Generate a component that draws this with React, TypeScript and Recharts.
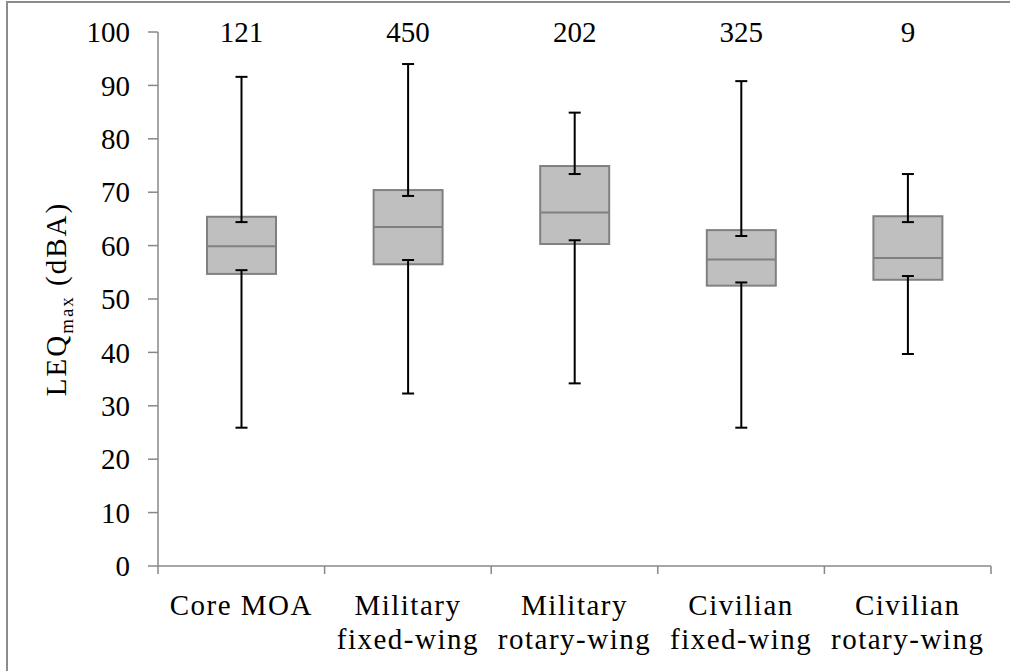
import { BarChart, Bar, XAxis, YAxis } from 'recharts';

// categories (\n = line break in the axis label)
const categories = [
  'Core MOA',
  'Military\nfixed-wing',
  'Military\nrotary-wing',
  'Civilian\nfixed-wing',
  'Civilian\nrotary-wing',
];
const counts = [121, 450, 202, 325, 9];

// box plot statistics, LEQmax (dBA)
const minValues = [25.9, 32.3, 34.2, 25.9, 39.7];
const lowerCaps = [55.4, 57.3, 61.0, 53.1, 54.3];
const q1Values = [54.7, 56.5, 60.3, 52.5, 53.6];
const medians = [59.9, 63.5, 66.2, 57.4, 57.7];
const upperCaps = [64.4, 69.3, 73.4, 61.8, 64.4];
const q3Values = [65.4, 70.4, 74.9, 62.9, 65.5];
const maxValues = [91.6, 94.0, 84.9, 90.8, 73.4];

const yTicks = [0, 10, 20, 30, 40, 50, 60, 70, 80, 90, 100];
const xBoundaryTicks = [0, 0.5, 1, 1.5, 2, 2.5, 3, 3.5, 4, 4.5, 5];
const countLevel = 100;

const FONT = '"Liberation Serif", "Times New Roman", serif';
const AXIS = '#888888';

const rows = categories.map((name, i) => ({
  name,
  pos: i + 0.5,
  count: counts[i],
  min: minValues[i],
  loCap: lowerCaps[i],
  q1: q1Values[i],
  median: medians[i],
  hiCap: upperCaps[i],
  q3: q3Values[i],
  max: maxValues[i],
  whisker: [minValues[i], maxValues[i]],
}));

function BoxShape(props: any) {
  const { x, y, width, height, payload } = props;
  const { min, max } = payload;
  // the bar spans min..max, so its own geometry gives the y scale
  const ppu = height / (max - min);
  const yOf = (v: number) => y + (max - v) * ppu;
  const cx = x + width / 2;
  const cap = 6;
  return (
    <g>
      <rect
        x={x}
        y={yOf(payload.q3)}
        width={width}
        height={yOf(payload.q1) - yOf(payload.q3)}
        fill="#bfbfbf"
        stroke="#808080"
        strokeWidth={2}
      />
      <line x1={x} x2={x + width} y1={yOf(payload.median)} y2={yOf(payload.median)} stroke="#808080" strokeWidth={2} />
      {/* upper whisker */}
      <line x1={cx} x2={cx} y1={yOf(payload.hiCap)} y2={yOf(max)} stroke="#000" strokeWidth={2} />
      <line x1={cx - cap} x2={cx + cap} y1={yOf(payload.hiCap)} y2={yOf(payload.hiCap)} stroke="#000" strokeWidth={2} />
      <line x1={cx - cap} x2={cx + cap} y1={yOf(max)} y2={yOf(max)} stroke="#000" strokeWidth={2} />
      {/* lower whisker */}
      <line x1={cx} x2={cx} y1={yOf(payload.loCap)} y2={yOf(min)} stroke="#000" strokeWidth={2} />
      <line x1={cx - cap} x2={cx + cap} y1={yOf(payload.loCap)} y2={yOf(payload.loCap)} stroke="#000" strokeWidth={2} />
      <line x1={cx - cap} x2={cx + cap} y1={yOf(min)} y2={yOf(min)} stroke="#000" strokeWidth={2} />
      <text x={cx} y={yOf(countLevel)} dy="0.36em" textAnchor="middle" fontFamily={FONT} fontSize={29} fill="#000">
        {payload.count}
      </text>
    </g>
  );
}

function CategoryTick(props: any) {
  const { x, y, payload } = props;
  const v = payload.value;
  if (Number.isInteger(v)) {
    return <line x1={x} x2={x} y1={y} y2={y + 8} stroke={AXIS} strokeWidth={1.5} />;
  }
  const lines = categories[Math.floor(v)].split('\n');
  return (
    <text x={x} y={y + 49} textAnchor="middle" fontFamily={FONT} fontSize={29} fill="#000" letterSpacing={1.5}>
      {lines.map((l, i) => (
        <tspan key={i} x={x} dy={i === 0 ? 0 : 34}>
          {l}
        </tspan>
      ))}
    </text>
  );
}

function YLabel(props: any) {
  const { viewBox } = props;
  const bx = viewBox.x + 46;
  const cy = viewBox.y + viewBox.height / 2;
  return (
    <text
      x={bx}
      y={cy}
      transform={`rotate(-90, ${bx}, ${cy})`}
      textAnchor="middle"
      fontFamily={FONT}
      fontSize={29}
      fill="#000"
      letterSpacing={2}
    >
      LEQ
      <tspan fontSize={19} dy={7}>
        max
      </tspan>
      <tspan dy={-7}> (dBA)</tspan>
    </text>
  );
}

export default function App() {
  return (
    <div style={{ position: 'absolute', left: 0, top: 0, width: 1010, height: 671, overflow: 'hidden', background: '#fff' }}>
      <div
        style={{
          position: 'absolute',
          left: 6,
          top: 1,
          width: 1100,
          height: 800,
          borderLeft: '2px solid #8c8c8c',
          borderTop: '2px solid #8c8c8c',
        }}
      />
      <div style={{ position: 'absolute', left: 0, top: 0 }}>
        <BarChart width={1010} height={671} data={rows} margin={{ top: 32, right: 19, bottom: 45, left: 20 }}>
          <XAxis
            xAxisId="num"
            dataKey="pos"
            type="number"
            domain={[0, 5]}
            ticks={xBoundaryTicks}
            allowDataOverflow
            height={60}
            tickSize={0}
            tickMargin={0}
            tickLine={false}
            axisLine={{ stroke: AXIS, strokeWidth: 1.5 }}
            tick={<CategoryTick />}
            interval={0}
          />
          <XAxis xAxisId="cat" dataKey="name" hide height={0} />
          <YAxis
            domain={[0, 100]}
            ticks={yTicks}
            width={138}
            tickSize={10}
            tickMargin={18}
            interval={0}
            axisLine={{ stroke: AXIS, strokeWidth: 1.5 }}
            tickLine={{ stroke: AXIS, strokeWidth: 1.5 }}
            tick={{ fill: '#000', fontSize: 29, fontFamily: FONT }}
            label={{ content: (p: any) => <YLabel {...p} /> }}
          />
          <Bar
            xAxisId="cat"
            dataKey="whisker"
            barSize={69}
            shape={<BoxShape />}
            isAnimationActive={false}
          />
        </BarChart>
      </div>
    </div>
  );
}
